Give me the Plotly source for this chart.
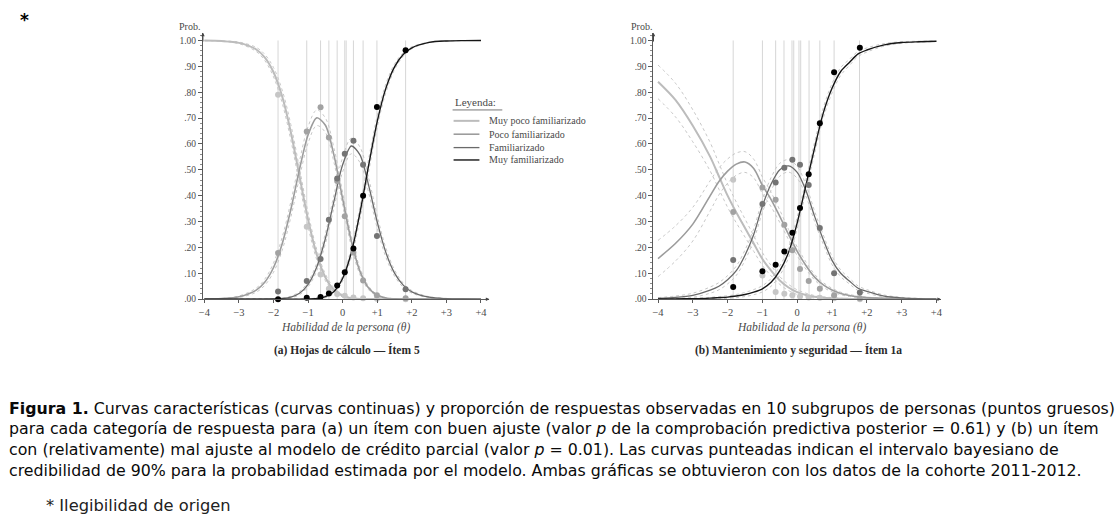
import plotly.graph_objects as go

W, H = 1118, 529

# ---------------- data ----------------
categories = ["Muy poco familiarizado", "Poco familiarizado", "Familiarizado", "Muy familiarizado"]
theta_grid = [-4, -3.5, -3, -2.5, -2.25, -2, -1.75, -1.5, -1.25, -1, -0.75, -0.5, -0.25,
              0, 0.25, 0.5, 0.75, 1, 1.25, 1.5, 1.75, 2, 2.5, 3, 3.5, 4]

# Panel (a) model curves
a_muy_poco = [0.9994, 0.9976, 0.9907, 0.965, 0.9336, 0.877, 0.783, 0.645, 0.4752, 0.3066, 0.1721, 0.084, 0.0353,
              0.0125, 0.0037, 0.0009, 0.0002, 0.0001, 0, 0, 0, 0, 0, 0, 0, 0]
a_poco = [0.0006, 0.0024, 0.0093, 0.0349, 0.0662, 0.1222, 0.2143, 0.3467, 0.5016, 0.6355, 0.7008, 0.6721, 0.5547,
          0.3865, 0.224, 0.1075, 0.0431, 0.0149, 0.0046, 0.0013, 0.0004, 0.0001, 0, 0, 0, 0]
a_fam = [0, 0, 0, 0.0001, 0.0002, 0.0007, 0.0026, 0.0081, 0.0231, 0.0575, 0.1245, 0.2345, 0.380,
         0.5202, 0.592, 0.5577, 0.4399, 0.2976, 0.1798, 0.1007, 0.0541, 0.0283, 0.0075, 0.002, 0.0005, 0.0001]
a_muy_fam = [0, 0, 0, 0, 0, 0, 0, 0, 0.0001, 0.0006, 0.0026, 0.0094, 0.030,
             0.0807, 0.180, 0.334, 0.5168, 0.6875, 0.8157, 0.898, 0.9455, 0.9717, 0.9925, 0.998, 0.9995, 0.9999]
# Panel (a) half-width of 90% credible band
a_hw_muy_poco = [0.0005, 0.001, 0.003, 0.008, 0.012, 0.018, 0.025, 0.03, 0.03, 0.027, 0.02, 0.013, 0.008,
                 0.004, 0.002, 0.001, 0, 0, 0, 0, 0, 0, 0, 0, 0, 0]
a_hw_poco = [0.0005, 0.001, 0.003, 0.008, 0.012, 0.018, 0.025, 0.03, 0.032, 0.032, 0.03, 0.028, 0.028,
             0.025, 0.02, 0.013, 0.007, 0.003, 0.001, 0.001, 0, 0, 0, 0, 0, 0]
a_hw_fam = [0, 0, 0, 0, 0, 0, 0.001, 0.003, 0.006, 0.01, 0.015, 0.02, 0.025,
            0.028, 0.03, 0.03, 0.028, 0.024, 0.018, 0.012, 0.008, 0.005, 0.002, 0.001, 0, 0]
a_hw_muy_fam = [0, 0, 0, 0, 0, 0, 0, 0, 0, 0.001, 0.002, 0.004, 0.007,
                0.01, 0.018, 0.024, 0.025, 0.022, 0.017, 0.011, 0.007, 0.004, 0.001, 0, 0, 0]
# Panel (a) observed proportions in 10 subgroups
a_group_theta = [-1.87, -1.04, -0.64, -0.40, -0.16, 0.06, 0.31, 0.59, 0.99, 1.82]
a_obs_muy_poco = [0.79, 0.28, 0.095, 0.04, 0.02, 0.013, 0.006, 0.003, 0.002, 0.0]
a_obs_poco = [0.178, 0.648, 0.742, 0.625, 0.457, 0.32, 0.18, 0.072, 0.015, 0.003]
a_obs_fam = [0.03, 0.07, 0.155, 0.307, 0.466, 0.562, 0.612, 0.52, 0.244, 0.038]
a_obs_muy_fam = [0.0, 0.005, 0.008, 0.022, 0.053, 0.104, 0.196, 0.40, 0.743, 0.962]
a_vlines = [-1.87, -1.04, -0.64, -0.40, -0.16, 0.06, 0.10, 0.31, 0.59, 0.99, 1.82]

# Panel (b) model curves
b_muy_poco = [0.84, 0.77, 0.67, 0.55, 0.475, 0.40, 0.335, 0.275, 0.215, 0.155, 0.11, 0.072, 0.045,
              0.027, 0.016, 0.009, 0.005, 0.003, 0.0015, 0.001, 0.0005, 0.0003, 0.0001, 0, 0, 0]
b_poco = [0.157, 0.215, 0.29, 0.40, 0.455, 0.495, 0.522, 0.53, 0.505, 0.44, 0.385, 0.32, 0.25,
          0.185, 0.13, 0.085, 0.055, 0.035, 0.022, 0.014, 0.009, 0.006, 0.003, 0.001, 0.0005, 0.0002]
b_fam = [0.003, 0.007, 0.015, 0.035, 0.05, 0.075, 0.11, 0.17, 0.25, 0.36, 0.445, 0.50, 0.515,
         0.49, 0.42, 0.32, 0.23, 0.15, 0.10, 0.07, 0.042, 0.03, 0.012, 0.005, 0.002, 0.001]
b_muy_fam = [0.0005, 0.001, 0.002, 0.004, 0.006, 0.008, 0.012, 0.018, 0.027, 0.04, 0.065, 0.11, 0.18,
             0.295, 0.44, 0.585, 0.72, 0.815, 0.88, 0.915, 0.948, 0.963, 0.983, 0.992, 0.995, 0.997]
b_hw_muy_poco = [0.065, 0.065, 0.062, 0.055, 0.05, 0.045, 0.04, 0.035, 0.03, 0.025, 0.02, 0.015, 0.012,
                 0.009, 0.007, 0.005, 0.004, 0.003, 0.002, 0.001, 0.001, 0.001, 0, 0, 0, 0]
b_hw_poco = [0.07, 0.068, 0.065, 0.058, 0.052, 0.047, 0.043, 0.04, 0.036, 0.032, 0.028, 0.024, 0.02,
             0.017, 0.014, 0.011, 0.009, 0.007, 0.005, 0.004, 0.003, 0.002, 0.001, 0.001, 0, 0]
b_hw_fam = [0.003, 0.005, 0.008, 0.012, 0.014, 0.016, 0.018, 0.02, 0.022, 0.024, 0.025, 0.025, 0.024,
            0.023, 0.022, 0.02, 0.018, 0.016, 0.013, 0.011, 0.009, 0.007, 0.004, 0.002, 0.001, 0.001]
b_hw_muy_fam = [0.001, 0.001, 0.002, 0.003, 0.004, 0.005, 0.006, 0.008, 0.01, 0.012, 0.015, 0.018, 0.02,
                0.022, 0.022, 0.022, 0.02, 0.018, 0.015, 0.012, 0.01, 0.008, 0.005, 0.003, 0.002, 0.001]
b_group_theta = [-1.84, -1.00, -0.62, -0.37, -0.14, 0.08, 0.33, 0.65, 1.06, 1.80]
b_obs_muy_poco = [0.462, 0.091, 0.028, 0.021, 0.015, 0.01, 0.006, 0.005, 0.003, 0.0]
b_obs_poco = [0.337, 0.432, 0.384, 0.288, 0.189, 0.117, 0.07, 0.04, 0.015, 0.003]
b_obs_fam = [0.151, 0.368, 0.451, 0.508, 0.539, 0.52, 0.441, 0.275, 0.10, 0.026]
b_obs_muy_fam = [0.047, 0.108, 0.133, 0.184, 0.257, 0.352, 0.483, 0.68, 0.877, 0.972]
b_vlines = [-1.84, -1.00, -0.62, -0.38, -0.15, -0.10, 0.05, 0.10, 0.34, 0.65, 1.06, 1.79]

x_tickvals = [-4, -3, -2, -1, 0, 1, 2, 3, 4]
x_ticktext = ["\u22124", "\u22123", "\u22122", "\u22121", "0", "+1", "+2", "+3", "+4"]
y_tickvals = [0, 0.1, 0.2, 0.3, 0.4, 0.5, 0.6, 0.7, 0.8, 0.9, 1.0]
y_ticktext = [".00", ".10", ".20", ".30", ".40", ".50", ".60", ".70", ".80", ".90", "1.00"]

caption_lines = [
    "<b>Figura 1.</b> Curvas características (curvas continuas) y proporción de respuestas observadas en 10 subgrupos de personas (puntos gruesos)",
    "para cada categoría de respuesta para (a) un ítem con buen ajuste (valor <i>p</i> de la comprobación predictiva posterior = 0.61) y (b) un ítem",
    "con (relativamente) mal ajuste al modelo de crédito parcial (valor <i>p</i> = 0.01). Las curvas punteadas indican el intervalo bayesiano de",
    "credibilidad de 90% para la probabilidad estimada por el modelo. Ambas gráficas se obtuvieron con los datos de la cohorte 2011-2012.",
]

# ---------------- style ----------------
line_colors = ["#bcbcbc", "#9c9c9c", "#6a6a6a", "#161616"]
line_widths = [2.0, 1.6, 1.3, 1.4]
pt_colors = ["#c6c6c6", "#a2a2a2", "#747474", "#000000"]
ci_color = "#c8c8c8"
SERIF = "Liberation Serif"
TXT = "#4a4a4a"

def px_x(p):
    return p / W

def px_y(p):
    return 1 - p / H

fig = go.Figure()

panels = [
    dict(xa="x", ya="y", curves=[a_muy_poco, a_poco, a_fam, a_muy_fam],
         hws=[a_hw_muy_poco, a_hw_poco, a_hw_fam, a_hw_muy_fam],
         gx=a_group_theta, obs=[a_obs_muy_poco, a_obs_poco, a_obs_fam, a_obs_muy_fam], vl=a_vlines),
    dict(xa="x2", ya="y2", curves=[b_muy_poco, b_poco, b_fam, b_muy_fam],
         hws=[b_hw_muy_poco, b_hw_poco, b_hw_fam, b_hw_muy_fam],
         gx=b_group_theta, obs=[b_obs_muy_poco, b_obs_poco, b_obs_fam, b_obs_muy_fam], vl=b_vlines),
]

shapes = []
for p in panels:
    for v in p["vl"]:
        shapes.append(dict(type="line", xref=p["xa"], yref=p["ya"], x0=v, x1=v, y0=0, y1=1.0,
                           line=dict(color="#d6d6d6", width=1), layer="below"))
    # credible bands (dotted)
    for k in range(4):
        up = [c + h for c, h in zip(p["curves"][k], p["hws"][k])]
        lo = [max(c - h, 0) for c, h in zip(p["curves"][k], p["hws"][k])]
        for band in (up, lo):
            fig.add_trace(go.Scatter(x=theta_grid, y=band, xaxis=p["xa"], yaxis=p["ya"], mode="lines",
                                     line=dict(color=ci_color, width=1, dash="dot", shape="spline"),
                                     hoverinfo="skip", showlegend=False, cliponaxis=False))
    for k in range(4):
        fig.add_trace(go.Scatter(x=theta_grid, y=p["curves"][k], xaxis=p["xa"], yaxis=p["ya"], mode="lines",
                                 line=dict(color=line_colors[k], width=line_widths[k], shape="spline", smoothing=0.8),
                                 name=categories[k], showlegend=False, cliponaxis=False))
    for k in range(4):
        fig.add_trace(go.Scatter(x=p["gx"], y=p["obs"][k], xaxis=p["xa"], yaxis=p["ya"], mode="markers",
                                 marker=dict(color=pt_colors[k], size=6),
                                 name=categories[k], showlegend=False, cliponaxis=False))

# ---------------- axes ----------------
ydom = [px_y(302), px_y(33)]
def xax(dom, rng):
    return dict(domain=dom, range=rng, showline=True, linecolor="#5a5a5a", linewidth=1,
                ticks="outside", ticklen=3, tickcolor="#5a5a5a", tickvals=x_tickvals, ticktext=x_ticktext,
                tickfont=dict(family=SERIF, size=10.5, color=TXT), showgrid=False, zeroline=False,
                fixedrange=True)

def yax(anchor):
    return dict(domain=ydom, range=[0, 1.03], anchor=anchor, showline=True, linecolor="#5a5a5a", linewidth=1,
                ticks="outside", ticklen=4, tickcolor="#5a5a5a", tickvals=y_tickvals, ticktext=y_ticktext,
                minor=dict(ticks="outside", ticklen=2, dtick=0.02, tickcolor="#8a8a8a", showgrid=False),
                tickfont=dict(family=SERIF, size=9.5, color=TXT), showgrid=False, zeroline=False,
                fixedrange=True)

xa_rng = [-4.043, 4.243]
xb_rng = [-4.13, 4.13]

annotations = []
for xa, ya, rng in (("x", "y", xa_rng), ("x2", "y2", xb_rng)):
    annotations.append(dict(x=rng[0], y=1.03, ax=rng[0], ay=0.99, xref=xa, yref=ya, axref=xa, ayref=ya,
                            text="", showarrow=True, arrowhead=2, arrowsize=0.7, arrowwidth=1,
                            arrowcolor="#444"))
    annotations.append(dict(x=rng[1], y=0, ax=rng[1] - 0.15, ay=0, xref=xa, yref=ya, axref=xa, ayref=ya,
                            text="", showarrow=True, arrowhead=2, arrowsize=0.7, arrowwidth=1,
                            arrowcolor="#444"))

def text(x, y, s, size, family=SERIF, color=TXT, xanchor="center"):
    annotations.append(dict(x=px_x(x), y=px_y(y), xref="paper", yref="paper", text=s, showarrow=False,
                            xanchor=xanchor, yanchor="middle", borderpad=0,
                            font=dict(family=family, size=size, color=color)))

text(187, 27, "Prob.", 10)
text(641, 27, "Prob.", 10)
text(343, 331, "<i>Habilidad de la persona (θ)</i>", 11.5)
text(802, 331, "<i>Habilidad de la persona (θ)</i>", 11.5)
text(345, 353, "<b>(a) Hojas de cálculo — Ítem 5</b>", 11.5, color="#2a2a2a")
text(799, 353, "<b>(b) Mantenimiento y seguridad — Ítem 1a</b>", 11.5, color="#2a2a2a")

# legend (drawn manually)
text(452, 103, "Leyenda:", 11, xanchor="left")
shapes.append(dict(type="line", xref="paper", yref="paper", x0=px_x(451), x1=px_x(501), y0=px_y(111), y1=px_y(111),
                   line=dict(color="#777", width=1)))
leg_rows = [122, 135.5, 149, 161.5]
for k in range(4):
    shapes.append(dict(type="line", xref="paper", yref="paper", x0=px_x(452), x1=px_x(478),
                       y0=px_y(leg_rows[k]), y1=px_y(leg_rows[k]),
                       line=dict(color=line_colors[k], width=line_widths[k])))
    text(487, leg_rows[k], categories[k], 10, xanchor="left")

# asterisk, caption, note
text(21, 20, "<b>*</b>", 17, family="DejaVu Sans", color="#000")
cap_y = [412, 433, 454, 475]
for s, yy in zip(caption_lines, cap_y):
    text(4, yy, s, 15.8, family="DejaVu Sans", color="#0a0a0a", xanchor="left")
text(41, 510, "* Ilegibilidad de origen", 16.3, family="DejaVu Sans", color="#222", xanchor="left")

fig.update_layout(
    width=W, height=H, margin=dict(l=0, r=0, t=0, b=0),
    paper_bgcolor="white", plot_bgcolor="white",
    xaxis=xax([px_x(200), px_x(488)], xa_rng),
    yaxis=yax("x"),
    xaxis2=xax([px_x(653), px_x(942)], xb_rng),
    yaxis2=yax("x2"),
    shapes=shapes, annotations=annotations, showlegend=False,
)
fig.update_layout(xaxis=dict(anchor="y"), xaxis2=dict(anchor="y2"))

fig.write_html("out.html", config={"displayModeBar": False},
               post_script="document.body.style.margin='0px';")
